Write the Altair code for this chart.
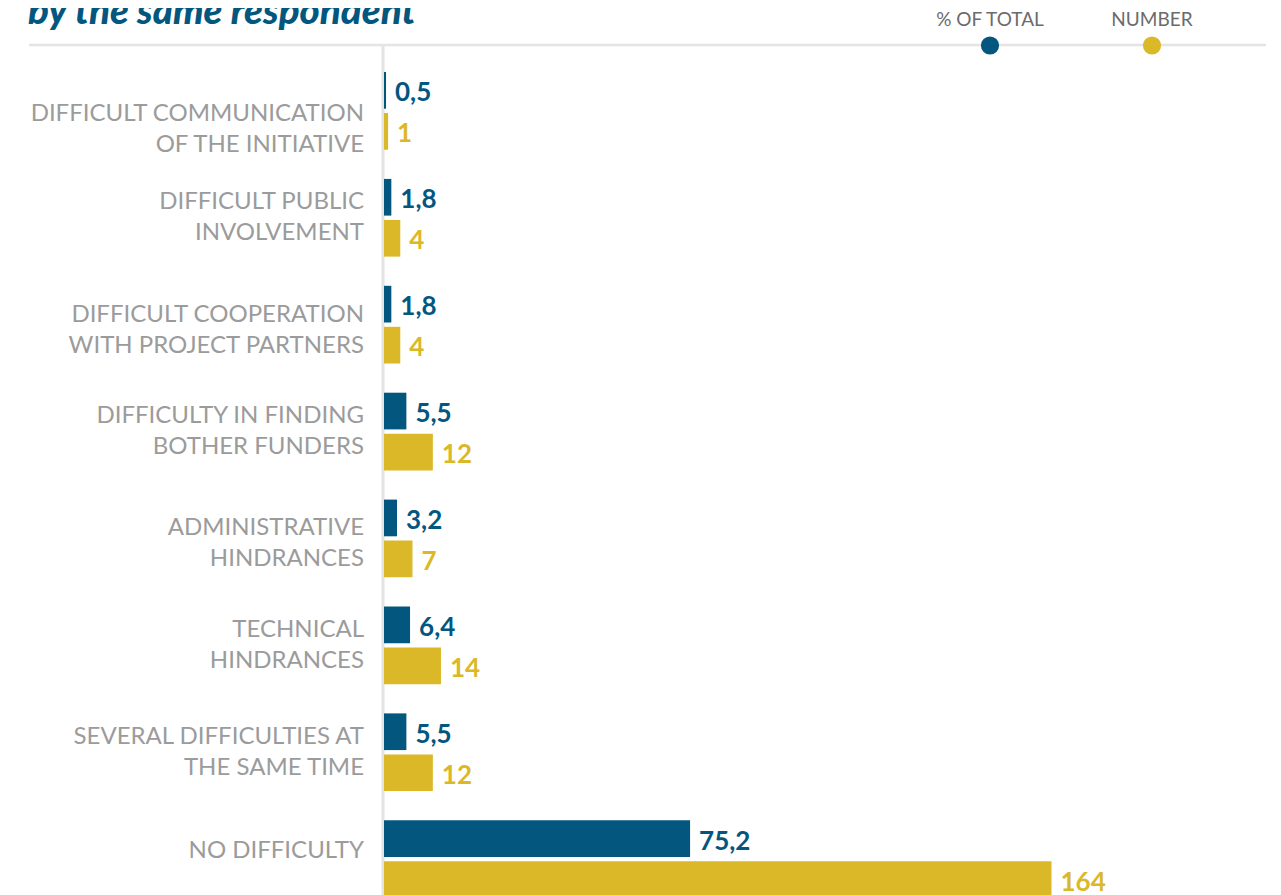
import altair as alt
import pandas as pd

# ---- data ----
# "|" marks a line break in the category labels
categories = [
    "DIFFICULT COMMUNICATION|OF THE INITIATIVE",
    "DIFFICULT PUBLIC|INVOLVEMENT",
    "DIFFICULT COOPERATION|WITH PROJECT PARTNERS",
    "DIFFICULTY IN FINDING|BOTHER FUNDERS",
    "ADMINISTRATIVE|HINDRANCES",
    "TECHNICAL|HINDRANCES",
    "SEVERAL DIFFICULTIES AT|THE SAME TIME",
    "NO DIFFICULTY",
]
series = ["% OF TOTAL", "NUMBER"]
pct_values = [0.5, 1.8, 1.8, 5.5, 3.2, 6.4, 5.5, 75.2]
num_values = [1, 4, 4, 12, 7, 14, 12, 164]
colors = ["#03577f", "#dbb828"]
title_text = "by the same respondent"

rows = []
for c, p, n in zip(categories, pct_values, num_values):
    rows.append({"category": c, "series": series[0], "value": p,
                 "label": f"{p:.1f}".replace(".", ",")})
    rows.append({"category": c, "series": series[1], "value": n,
                 "label": str(n)})
df = pd.DataFrame(rows)
cat_df = pd.DataFrame({"category": categories})
legend_df = pd.DataFrame({"series": series})
title_df = pd.DataFrame({"t": [title_text]})

W = 882
H = 880

color_enc = alt.Color("series:N", scale=alt.Scale(domain=series, range=colors), legend=None)

y_enc = alt.Y(
    "category:N",
    sort=categories,
    scale=alt.Scale(paddingInner=0.273, paddingOuter=0.2527),
    axis=alt.Axis(
        title=None, labels=False, ticks=False, tickSize=0,
        domainColor="#e4e4e4", domainWidth=3, offset=1.5, grid=False,
    ),
)

base = alt.Chart(df).encode(
    y=y_enc,
    yOffset=alt.YOffset("series:N", sort=series,
                        scale=alt.Scale(paddingInner=0.105, paddingOuter=0)),
    x=alt.X("value:Q", scale=alt.Scale(domain=[0, 216.7], nice=False, zero=True), axis=None),
    color=color_enc,
)

bars = base.mark_bar()
value_labels = base.mark_text(
    align="left", baseline="middle", dx=9, dy=3, font="Lato", fontWeight="bold", fontSize=26
).encode(text="label:N")


def cat_labels(names, shift):
    return alt.Chart(cat_df).transform_filter(
        alt.FieldOneOfPredicate(field="category", oneOf=names)
    ).transform_calculate(
        lines="split(datum.category, '|')"
    ).mark_text(
        align="right", baseline="middle", font="Lato", fontSize=24,
        color="#9b9b9b", lineHeight=31, dy=shift,
    ).encode(y=y_enc, x=alt.value(-20), text="lines:N")


labels_a = cat_labels([categories[0]], 3)
labels_b = cat_labels([categories[1], categories[3], categories[5], categories[6]], -15.5)
labels_c = cat_labels([categories[2], categories[4]], -10)
labels_d = cat_labels([categories[7]], -8)

top_rule = alt.Chart(pd.DataFrame({"k": [0]})).mark_rule(
    color="#e4e4e4", strokeWidth=2.5
).encode(x=alt.value(-355), x2=alt.value(W), y=alt.value(0))

leg_x = alt.X("series:N", sort=series,
              scale=alt.Scale(type="point", range=[606, 768], padding=0), axis=None)
leg_pts = alt.Chart(legend_df).mark_circle(size=330, opacity=1).encode(
    x=leg_x, y=alt.value(0.5), color=color_enc
)
leg_txt = alt.Chart(legend_df).mark_text(
    baseline="middle", align="center", font="Lato", fontSize=19, color="#6b6b6b"
).encode(x=leg_x, y=alt.value(-25), text="series:N")

title_mark = alt.Chart(title_df).mark_text(
    align="left", baseline="alphabetic", font="Lato", fontSize=38.5,
    fontWeight=900, fontStyle="italic", color="#03577f"
).encode(text="t:N", x=alt.value(-356), y=alt.value(-21))

chart = alt.layer(
    top_rule, bars, value_labels, labels_a, labels_b, labels_c, labels_d,
    leg_pts, leg_txt, title_mark,
).resolve_scale(
    x="independent"
).properties(
    width=W,
    height=H,
    autosize=alt.AutoSizeParams(type="none"),
    padding={"left": 376, "top": 37, "right": 0, "bottom": 0},
).configure_view(stroke=None)

chart.save("out.html", embed_options={"renderer": "svg", "actions": False})
